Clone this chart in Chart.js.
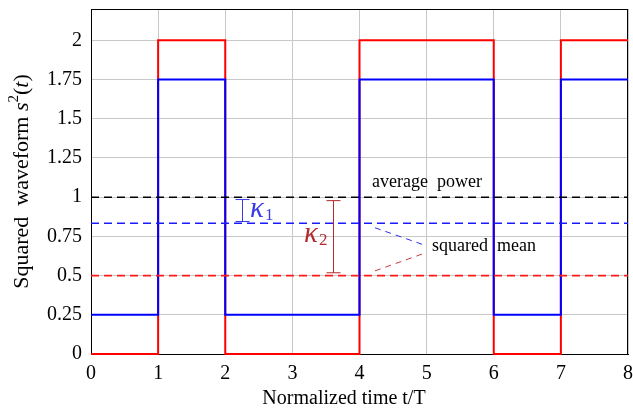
<!DOCTYPE html>
<html>
<head>
<meta charset="utf-8">
<script src="https://cdn.jsdelivr.net/npm/chart.js@4.4.1/dist/chart.umd.min.js"></script>
<style>
  html, body { margin: 0; padding: 0; background: #fff; }
  #wrap { width: 633px; height: 411px; }
</style>
</head>
<body>
<div id="wrap"><canvas id="chart" width="633" height="411"></canvas></div>
<script>
// waveform data (normalized time t/T)
const times = [0, 1, 1, 2, 2, 4, 4, 6, 6, 7, 7, 8];
const redWave = [0, 0, 2, 2, 0, 0, 2, 2, 0, 0, 2, 2];
const blueWave = [0.25, 0.25, 1.75, 1.75, 0.25, 0.25, 1.75, 1.75, 0.25, 0.25, 1.75, 1.75];

// reference levels
const averagePower = 1;
const blueMean = 0.8333;
const redMean = 0.5;

// kappa bars: [x, yTop, yBottom]
const kappa1 = [2.25, 0.985, 0.845];
const kappa2 = [3.6, 0.978, 0.518];

// pointer lines to the "squared mean" label
const bluePointer = [[4.23, 0.805], [4.95, 0.697]];
const redPointer = [[4.23, 0.53], [4.95, 0.64]];

const xTicks = [0, 1, 2, 3, 4, 5, 6, 7, 8];
const yTicks = [0, 0.25, 0.5, 0.75, 1, 1.25, 1.5, 1.75, 2];

const FONT = '"Liberation Serif", "DejaVu Serif", serif';

const toPts = (xs, ys) => xs.map((x, i) => ({ x: x, y: ys[i] }));
const hLine = (y) => [{ x: 0, y: y }, { x: 8, y: y }];

const frame = {
    id: 'frame',
    beforeDatasetsDraw(chart) {
        const { ctx, chartArea } = chart;
        ctx.save();
        ctx.strokeStyle = '#000';
        ctx.lineWidth = 1;
        ctx.strokeRect(chartArea.left + 0.5, chartArea.top + 0.5,
            chartArea.right - chartArea.left - 1, chartArea.bottom - chartArea.top);
        ctx.restore();
    }
};

const annotations = {
    id: 'annotations',
    afterDatasetsDraw(chart) {
        const { ctx, chartArea, scales } = chart;
        const xs = scales.x, ys = scales.y;
        ctx.save();

        // kappa bars with caps
        function bar(k, color) {
            const x = Math.round(xs.getPixelForValue(k[0])) + 0.5;
            const y1 = ys.getPixelForValue(k[1]);
            const y2 = ys.getPixelForValue(k[2]);
            ctx.strokeStyle = color;
            ctx.lineWidth = 1;
            ctx.beginPath();
            ctx.moveTo(x, y1); ctx.lineTo(x, y2);
            ctx.moveTo(x - 7, y1); ctx.lineTo(x + 7, y1);
            ctx.moveTo(x - 7, y2); ctx.lineTo(x + 7, y2);
            ctx.stroke();
        }
        bar(kappa1, '#3a3ae6');
        bar(kappa2, '#b52a2a');

        // pointer lines
        function pointer(p, color) {
            ctx.strokeStyle = color;
            ctx.lineWidth = 1;
            ctx.setLineDash([6, 5]);
            ctx.beginPath();
            ctx.moveTo(xs.getPixelForValue(p[0][0]), ys.getPixelForValue(p[0][1]));
            ctx.lineTo(xs.getPixelForValue(p[1][0]), ys.getPixelForValue(p[1][1]));
            ctx.stroke();
            ctx.setLineDash([]);
        }
        pointer(bluePointer, '#2f2fee');
        pointer(redPointer, '#c83a3a');

        // text labels
        ctx.fillStyle = '#000';
        ctx.textBaseline = 'alphabetic';
        ctx.textAlign = 'left';
        ctx.font = '18px ' + FONT;
        ctx.fillText('average  power', 372, 187);
        ctx.fillText('squared  mean', 432, 251);

        // kappa symbols
        function kappa(sub, x, y, color) {
            ctx.fillStyle = color;
            ctx.font = 'italic 29px ' + FONT;
            ctx.fillText('κ', x, y);
            const w = ctx.measureText('κ').width;
            ctx.font = '17px ' + FONT;
            ctx.fillText(sub, x + w + 1, y + 3);
        }
        kappa('1', 250, 217, '#3a3ae6');
        kappa('2', 304, 242, '#b52a2a');

        // x axis title
        ctx.fillStyle = '#000';
        ctx.textAlign = 'center';
        ctx.font = '20px ' + FONT;
        ctx.fillText('Normalized time t/T', 344, 404);

        // y axis title with italic parts
        ctx.textAlign = 'left';
        ctx.textBaseline = 'middle';
        ctx.translate(22, (chartArea.top + chartArea.bottom) / 2);
        ctx.rotate(-Math.PI / 2);
        const parts = [
            ['22px ' + FONT, 'Squared  waveform ', 0],
            ['italic 22px ' + FONT, 's', 0],
            ['15px ' + FONT, '2', -8],
            ['22px ' + FONT, '(', 0],
            ['italic 22px ' + FONT, 't', 0],
            ['22px ' + FONT, ')', 0]
        ];
        let total = 0;
        parts.forEach(p => { ctx.font = p[0]; total += ctx.measureText(p[1]).width; });
        let cx = -total / 2;
        parts.forEach(p => {
            ctx.font = p[0];
            ctx.fillText(p[1], cx, p[2]);
            cx += ctx.measureText(p[1]).width;
        });
        ctx.restore();
    }
};

new Chart(document.getElementById('chart'), {
    type: 'scatter',
    data: {
        datasets: [
            { data: hLine(averagePower), borderColor: '#000', borderWidth: 1.6, borderDash: [8, 5] },
            { data: hLine(blueMean), borderColor: '#1a1aff', borderWidth: 1.6, borderDash: [8, 5] },
            { data: hLine(redMean), borderColor: '#ff1a1a', borderWidth: 1.6, borderDash: [8, 5] },
            { data: toPts(times, blueWave), borderColor: '#0000ff', borderWidth: 2 },
            { data: toPts(times, redWave), borderColor: '#ff0000', borderWidth: 2 }
        ].map(d => Object.assign(d, { showLine: true, pointRadius: 0, fill: false, tension: 0 }))
    },
    options: {
        responsive: false,
        animation: false,
        clip: false,
        layout: { padding: { top: 9, right: 5, left: 0, bottom: 0 } },
        plugins: { legend: { display: false }, tooltip: { enabled: false } },
        scales: {
            x: {
                type: 'linear', min: 0, max: 8,
                afterBuildTicks: (s) => { s.ticks = xTicks.map(v => ({ value: v })); },
                afterFit: (s) => { s.height = 57; s.paddingLeft = 0; s.paddingRight = 0; },
                grid: { color: '#c8c8c8', lineWidth: 1, drawTicks: false },
                border: { color: '#000', width: 1 },
                ticks: { color: '#000', padding: 8, font: { family: FONT, size: 20 }, maxRotation: 0,
                    callback: (v) => String(v) }
            },
            y: {
                type: 'linear', min: 0, max: 2.2,
                afterBuildTicks: (s) => { s.ticks = yTicks.map(v => ({ value: v })); },
                afterFit: (s) => { s.width = 91; s.paddingTop = 0; s.paddingBottom = 0; },
                grid: { color: '#c8c8c8', lineWidth: 1, drawTicks: false },
                border: { color: '#000', width: 1 },
                ticks: { color: '#000', padding: 9, font: { family: FONT, size: 20 },
                    callback: (v) => String(v) }
            }
        }
    },
    plugins: [frame, annotations]
});
</script>
</body>
</html>
